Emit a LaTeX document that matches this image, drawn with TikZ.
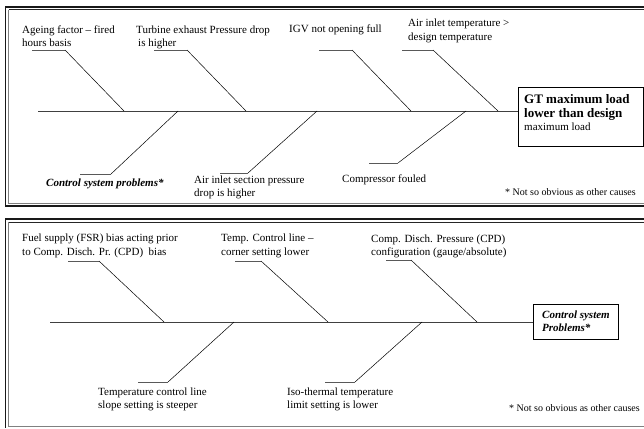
\documentclass[tikz,border=0pt]{standalone}
\usepackage{fontspec}
\setmainfont{Liberation Serif}
\begin{document}
\begin{tikzpicture}[x=1pt,y=-1pt,
  lbl/.style={font=\fontsize{11}{13}\selectfont, align=left, anchor=base west, inner sep=0pt},
  note/.style={font=\fontsize{10}{12}\selectfont, anchor=base west, inner sep=0pt},
  spine/.style={line width=0.9pt, black!75},
  bone/.style={line width=0.5pt, black},
  stub/.style={line width=0.8pt, black!65},
  frameo/.style={line width=1.2pt, black!90},
  framei/.style={line width=0.7pt, black!50},
  frameit/.style={line width=0.9pt, black!85},
  effbox/.style={draw, line width=0.8pt, inner sep=0pt}]
\useasboundingbox (0,0) rectangle (644,428);
% ---------- frames ----------
\draw[frameo] (650,7) -- (5.5,7) -- (5.5,206) -- (650,206);
\draw[framei] (8.5,9.8) -- (8.5,203.3) -- (650,203.3);
\draw[frameit] (8.5,9.8) -- (650,9.8);
\draw[frameo] (650,219) -- (5.5,219) -- (5.5,428);
\draw[framei] (8.5,222) -- (8.5,426.5) -- (650,426.5);
\draw[frameit] (8.5,222) -- (650,222);
% ---------- top diagram ----------
\node[effbox, minimum width=125pt, minimum height=59pt] (gtbox) at (580.5,116.5) {};
\node[lbl, font=\fontsize{13}{14}\selectfont\bfseries] (gttext) at (524,130)
  {GT maximum load\\lower than design\\[-1pt]\fontsize{11}{13}\selectfont\mdseries maximum load};
\coordinate (spL) at (38,111);
\draw[spine] (spL) -- (spL -| gtbox.west);
% top bones
\coordinate (a1s) at (32,50);  \coordinate (a1k) at (65,50);  \coordinate (a1e) at (124,111);
\coordinate (a2s) at (154,50); \coordinate (a2k) at (187,50); \coordinate (a2e) at (246,111);
\coordinate (a3s) at (319,50); \coordinate (a3k) at (352,50); \coordinate (a3e) at (411,111);
\coordinate (a4s) at (402,50); \coordinate (a4k) at (433,50); \coordinate (a4e) at (498,111);
\foreach \i in {1,2,3,4}{
  \draw[stub] (a\i s) -- (a\i k);
  \draw[bone] (a\i k) -- (a\i e);
}
% bottom bones
\coordinate (b1s) at (80,174);  \coordinate (b1k) at (111,174); \coordinate (b1e) at (178,111);
\coordinate (b2s) at (220,173); \coordinate (b2k) at (248,173); \coordinate (b2e) at (317,111);
\coordinate (b3s) at (369,163); \coordinate (b3k) at (398,163); \coordinate (b3e) at (466,111);
\foreach \i in {1,2,3}{
  \draw[stub] (b\i s) -- (b\i k);
  \draw[bone] (b\i k) -- (b\i e);
}
\node[lbl] (t1) at (22,46) {Ageing factor -- fired\\hours basis};
\node[lbl] (t2) at (136,46) {Turbine exhaust Pressure drop\\\hspace{2pt}is higher};
\node[lbl] (t3) at (289,33) {IGV not opening full};
\node[lbl, font=\fontsize{11}{14}\selectfont] (t4) at (408,41) {Air inlet temperature >\\design temperature};
\node[lbl, font=\fontsize{11}{13}\selectfont\bfseries\itshape] (t5) at (46,186) {Control system problems*};
\node[lbl] (t6) at (194,196) {Air inlet section pressure\\drop is higher};
\node[lbl] (t7) at (342,182) {Compressor fouled};
\node[note] (n1) at (505,195) {* Not so obvious as other causes};
% ---------- bottom diagram ----------
\node[effbox, minimum width=85pt, minimum height=35pt] (csbox) at (575.5,321.5) {};
\node[lbl, font=\fontsize{11}{13}\selectfont\bfseries\itshape] (cstext) at (542,331) {Control system\\Problems*};
\coordinate (spL2) at (50,322);
\draw[spine] (spL2) -- (spL2 -| csbox.west);
\coordinate (c1s) at (68,261);  \coordinate (c1k) at (99,261);  \coordinate (c1e) at (164,322);
\coordinate (c2s) at (235,261); \coordinate (c2k) at (261,261); \coordinate (c2e) at (328,322);
\coordinate (c3s) at (386,260); \coordinate (c3k) at (411,260); \coordinate (c3e) at (477,322);
\foreach \i in {1,2,3}{
  \draw[stub] (c\i s) -- (c\i k);
  \draw[bone] (c\i k) -- (c\i e);
}
\coordinate (d1s) at (138,382); \coordinate (d1k) at (168,382); \coordinate (d1e) at (234,322);
\coordinate (d2s) at (325,382); \coordinate (d2k) at (355,382); \coordinate (d2e) at (422,322);
\foreach \i in {1,2}{
  \draw[stub] (d\i s) -- (d\i k);
  \draw[bone] (d\i k) -- (d\i e);
}
\node[lbl, font=\fontsize{11}{14}\selectfont] (u1) at (22,255) {Fuel supply (FSR) bias acting prior\\to Comp. Disch. Pr. (CPD)\ \ bias};
\node[lbl, font=\fontsize{11}{14}\selectfont] (u2) at (221,255) {Temp. Control line --\\corner setting lower};
\node[lbl] (u3) at (371,255) {Comp. Disch. Pressure (CPD)\\configuration (gauge/absolute)};
\node[lbl] (u4) at (98,408) {Temperature control line\\slope setting is steeper};
\node[lbl] (u5) at (287,408) {Iso-thermal temperature\\limit setting is lower};
\node[note] (n2) at (509,411) {* Not so obvious as other causes};
\end{tikzpicture}
\end{document}
